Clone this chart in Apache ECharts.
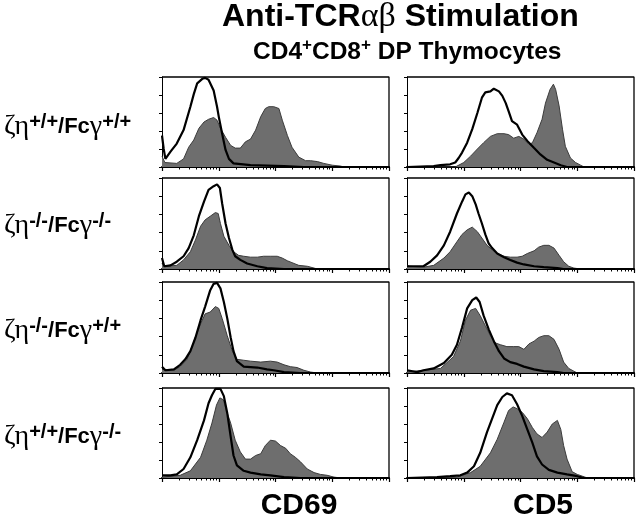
<!DOCTYPE html>
<html><head><meta charset="utf-8">
<script src="https://cdn.jsdelivr.net/npm/echarts@6/dist/echarts.min.js"></script>
<style>html,body{margin:0;padding:0;background:#fff}#c{width:640px;height:520px}</style>
</head><body><div id="c"></div><script>
// x values are log10 fluorescence (decades 0..4); y values are relative cell counts (0..100)
const markers = ['CD69', 'CD5'];
const genotypeSup = [['+/+', '+/+'], ['-/-', '-/-'], ['-/-', '+/+'], ['+/+', '-/-']];
const decadeTicks = [0, 1, 2, 3, 4];
const countTicks = [0, 20, 40, 60, 80, 100];

// Row 1: zeta-eta +/+ / FcR-gamma +/+
const cd69_wt_stim = [[0,12],[0.05,5],[0.26,4],[0.38,9],[0.47,22],[0.56,30],[0.65,43],[0.74,50],[0.82,53],[0.91,55],[0.97,52],[1.03,43],[1.12,33],[1.21,24],[1.29,21],[1.38,21],[1.47,28],[1.56,31],[1.65,41],[1.74,56],[1.82,65],[1.88,67],[1.97,67],[2.06,65],[2.12,52],[2.21,35],[2.29,22],[2.41,11],[2.53,7],[2.62,7],[2.74,6],[2.85,4],[3.0,2],[3.15,1],[3.2,0],[4,0]];
const cd69_wt_ctrl = [[0,35],[0.03,20],[0.06,9],[0.15,17],[0.26,26],[0.38,41],[0.5,67],[0.56,81],[0.62,93],[0.71,98],[0.76,99],[0.82,97],[0.91,85],[0.97,67],[1.0,56],[1.06,37],[1.12,19],[1.18,9],[1.26,4],[1.56,2],[2.15,1],[2.5,0],[4,0]];
const cd5_wt_stim = [[0,0],[0.85,0],[0.88,2],[1.0,5],[1.12,12],[1.24,20],[1.35,27],[1.47,34],[1.59,37],[1.71,37],[1.79,36],[1.88,32],[1.97,34],[2.06,31],[2.15,25],[2.21,27],[2.29,38],[2.38,53],[2.44,71],[2.52,86],[2.58,92],[2.62,86],[2.68,68],[2.74,42],[2.79,23],[2.88,10],[2.97,5],[3.06,2],[3.12,0],[4,0]];
const cd5_wt_ctrl = [[0,0],[0.47,1],[0.59,2],[0.76,3],[0.85,5],[0.91,10],[0.97,16],[1.06,27],[1.15,42],[1.24,60],[1.32,77],[1.38,83],[1.47,84],[1.53,87],[1.62,84],[1.68,79],[1.74,71],[1.79,62],[1.85,51],[1.94,47],[2.03,36],[2.12,29],[2.24,21],[2.35,14],[2.47,8],[2.59,5],[2.71,2],[2.82,0],[4,0]];

// Row 2: zeta-eta -/- / FcR-gamma -/-
const cd69_dko_stim = [[0,6],[0.04,3],[0.26,4],[0.38,10],[0.5,19],[0.59,32],[0.68,47],[0.76,54],[0.85,58],[0.94,62],[0.99,61],[1.03,50],[1.09,36],[1.18,26],[1.26,19],[1.35,15],[1.44,14],[1.56,13],[1.68,13],[1.79,14],[1.91,14],[2.03,14],[2.12,12],[2.21,9],[2.29,7],[2.41,4],[2.56,3],[2.68,1],[2.74,0],[4,0]];
const cd69_dko_ctrl = [[0,12],[0.04,3],[0.15,4],[0.26,8],[0.38,14],[0.47,23],[0.56,37],[0.65,58],[0.74,74],[0.82,87],[0.91,91],[0.97,93],[1.02,89],[1.06,72],[1.12,50],[1.18,34],[1.24,21],[1.29,14],[1.38,10],[1.5,6],[1.68,3],[1.85,1],[2.15,0],[4,0]];
const cd5_dko_stim = [[0,4],[0.05,3],[0.29,2],[0.47,4],[0.65,12],[0.76,19],[0.88,30],[0.97,38],[1.06,43],[1.15,46],[1.24,41],[1.32,34],[1.41,26],[1.5,21],[1.59,17],[1.71,14],[1.82,13],[1.94,13],[2.03,14],[2.12,17],[2.24,20],[2.32,24],[2.41,26],[2.5,26],[2.59,23],[2.68,15],[2.76,8],[2.85,3],[2.94,1],[3.06,0],[4,0]];
const cd5_dko_ctrl = [[0,3],[0.18,3],[0.29,3],[0.41,8],[0.53,15],[0.65,26],[0.76,41],[0.88,61],[0.97,74],[1.03,82],[1.09,84],[1.15,80],[1.21,71],[1.26,61],[1.32,50],[1.38,38],[1.44,28],[1.5,23],[1.59,17],[1.71,13],[1.82,10],[1.94,7],[2.06,5],[2.24,3],[2.41,2],[2.65,1],[2.76,0],[4,0]];

// Row 3: zeta-eta -/- / FcR-gamma +/+
const cd69_zko_stim = [[0,4],[0.21,3],[0.32,7],[0.44,15],[0.56,34],[0.68,54],[0.76,65],[0.85,67],[0.94,73],[1.0,71],[1.06,60],[1.15,41],[1.24,24],[1.32,15],[1.44,14],[1.56,13],[1.74,12],[1.91,13],[2.03,12],[2.15,9],[2.26,7],[2.38,6],[2.5,3],[2.62,1],[2.74,0],[4,0]];
const cd69_zko_ctrl = [[0,7],[0.06,3],[0.21,4],[0.32,9],[0.41,15],[0.5,24],[0.59,39],[0.68,58],[0.76,73],[0.85,91],[0.91,98],[0.97,99],[1.03,93],[1.09,78],[1.15,60],[1.21,39],[1.26,24],[1.32,13],[1.44,7],[1.68,6],[1.85,4],[1.97,3],[2.15,1],[2.44,0],[4,0]];
const cd5_zko_stim = [[0,1],[0.59,5],[0.82,18],[0.94,35],[1.03,58],[1.12,69],[1.21,71],[1.29,63],[1.38,52],[1.47,41],[1.56,33],[1.65,31],[1.76,29],[1.88,29],[1.97,29],[2.06,26],[2.15,32],[2.24,35],[2.32,39],[2.41,41],[2.5,41],[2.59,37],[2.68,26],[2.76,12],[2.85,5],[2.94,2],[3.0,0],[4,0]];
const cd5_zko_ctrl = [[0,3],[0.18,1],[0.29,3],[0.47,5],[0.65,11],[0.79,20],[0.88,31],[0.97,50],[1.06,71],[1.15,80],[1.22,83],[1.28,78],[1.35,63],[1.44,48],[1.53,35],[1.62,24],[1.71,16],[1.82,12],[1.94,10],[2.06,7],[2.24,4],[2.41,2],[2.65,1],[2.76,0],[4,0]];

// Row 4: zeta-eta +/+ / FcR-gamma -/-
const cd69_gko_stim = [[0,1],[0.32,3],[0.5,8],[0.68,23],[0.79,42],[0.88,61],[0.96,81],[1.02,89],[1.08,87],[1.14,74],[1.21,61],[1.29,42],[1.38,29],[1.47,21],[1.56,21],[1.65,25],[1.74,27],[1.82,36],[1.91,42],[2.0,41],[2.09,36],[2.18,33],[2.26,27],[2.35,23],[2.44,18],[2.56,10],[2.68,6],[2.79,4],[2.91,3],[3.03,1],[3.15,0],[4,0]];
const cd69_gko_ctrl = [[0,3],[0.15,3],[0.26,4],[0.38,10],[0.5,23],[0.62,42],[0.74,64],[0.82,83],[0.88,92],[0.94,99],[1.03,99],[1.09,91],[1.15,72],[1.21,46],[1.26,25],[1.32,14],[1.44,8],[1.56,6],[1.74,4],[1.91,3],[2.15,1],[2.44,0],[4,0]];
const cd5_gko_stim = [[0,0],[0.88,1],[1.12,6],[1.29,13],[1.47,28],[1.59,43],[1.71,62],[1.79,75],[1.87,79],[1.94,77],[2.03,73],[2.12,66],[2.21,56],[2.29,49],[2.38,45],[2.47,51],[2.56,60],[2.65,64],[2.71,54],[2.76,36],[2.82,21],[2.91,7],[3.0,4],[3.09,2],[3.18,0],[4,0]];
const cd5_gko_ctrl = [[0,0],[0.53,1],[0.76,2],[0.94,3],[1.06,6],[1.18,13],[1.29,28],[1.41,51],[1.5,66],[1.59,81],[1.68,90],[1.76,94],[1.85,92],[1.94,82],[2.03,69],[2.12,54],[2.21,39],[2.29,24],[2.38,15],[2.5,9],[2.65,6],[2.82,4],[3.0,2],[3.12,0],[4,0]];

const panels = [
  [cd69_wt_stim, cd69_wt_ctrl, cd5_wt_stim, cd5_wt_ctrl],
  [cd69_dko_stim, cd69_dko_ctrl, cd5_dko_stim, cd5_dko_ctrl],
  [cd69_zko_stim, cd69_zko_ctrl, cd5_zko_stim, cd5_zko_ctrl],
  [cd69_gko_stim, cd69_gko_ctrl, cd5_gko_stim, cd5_gko_ctrl]
];

// minor log ticks (2..9 within each decade)
const minorTickValues = [];
for (let d = 0; d < 4; d++) for (let m = 2; m <= 9; m++) minorTickValues.push(d + Math.log10(m));

// layout
const rowTops = [77, 178, 282, 388];
const rowHeights = [90, 91, 91, 90];
const colLefts = [162, 407];
const colWidth = 227;
const labelBaselines = [135, 234, 339, 445];

const xMin = decadeTicks[0], xMax = decadeTicks[decadeTicks.length - 1];
const yMin = countTicks[0], yMax = countTicks[countTicks.length - 1];
// top and right edges of each panel frame, in axis units
const frameEdge = [[xMin, yMax], [xMax, yMax], [xMax, yMin]];

const grid = [], xAxis = [], yAxis = [], series = [];
const hidden = { axisLine: { show: false }, axisTick: { show: false }, axisLabel: { show: false }, splitLine: { show: false } };
for (let r = 0; r < 4; r++) {
  for (let c = 0; c < 2; c++) {
    const rect = { left: colLefts[c], top: rowTops[r], width: colWidth, height: rowHeights[r] };
    const gMain = grid.length;
    grid.push(Object.assign({}, rect));
    const gMinor = grid.length;
    grid.push(Object.assign({}, rect));
    const xi = xAxis.length;
    xAxis.push({ type: 'value', gridIndex: gMain, position: 'bottom', min: xMin, max: xMax, interval: 1,
      axisLine: { show: true, onZero: false, lineStyle: { color: '#000', width: 2 } },
      axisTick: { show: true, inside: false, length: 4, lineStyle: { color: '#000', width: 1.2 } },
      axisLabel: { show: false }, splitLine: { show: false } });
    const xMinor = xAxis.length;
    xAxis.push({ type: 'value', gridIndex: gMinor, position: 'bottom', min: xMin, max: xMax, interval: 1,
      axisLine: { show: false, onZero: false },
      axisTick: { show: true, inside: false, length: 2.5, customValues: minorTickValues, lineStyle: { color: '#000', width: 1 } },
      axisLabel: { show: false }, splitLine: { show: false } });
    const yi = yAxis.length;
    yAxis.push({ type: 'value', gridIndex: gMain, position: 'left', min: yMin, max: yMax, interval: 20,
      axisLine: { show: true, onZero: false, lineStyle: { color: '#000', width: 1 } },
      axisTick: { show: true, inside: false, length: 3, lineStyle: { color: '#000' } },
      axisLabel: { show: false }, splitLine: { show: false } });
    const yMinor = yAxis.length;
    yAxis.push(Object.assign({ type: 'value', gridIndex: gMinor, min: yMin, max: yMax, interval: 20 }, hidden));
    const stim = panels[r][c * 2], ctrl = panels[r][c * 2 + 1];
    series.push({ type: 'line', xAxisIndex: xi, yAxisIndex: yi, data: stim, showSymbol: false,
      lineStyle: { color: '#3c3c3c', width: 1 }, areaStyle: { color: '#6e6e6e', opacity: 1 }, z: 2, silent: true });
    series.push({ type: 'line', xAxisIndex: xi, yAxisIndex: yi, data: ctrl, showSymbol: false,
      lineStyle: { color: '#000', width: 2.2 }, z: 3, silent: true });
    // panel frame (top + right edges)
    series.push({ type: 'line', xAxisIndex: xi, yAxisIndex: yi, data: frameEdge, showSymbol: false, clip: false,
      lineStyle: { color: '#000', width: 1.3 }, z: 4, silent: true });
    series.push({ type: 'line', xAxisIndex: xMinor, yAxisIndex: yMinor, data: [], showSymbol: false, silent: true });
  }
}

const sans = 'Liberation Sans, Arial, sans-serif';
const serif = 'Liberation Serif, Times New Roman, serif';
const graphic = [
  { type: 'text', left: 222, top: 0, style: {
      text: '{b|Anti-TCR}{g|αβ}{b| Stimulation}', rich: {
        b: { fontFamily: sans, fontWeight: 'bold', fontSize: 32, lineHeight: 34, fill: '#000' },
        g: { fontFamily: serif, fontSize: 34, lineHeight: 34, fill: '#000' } } } },
  { type: 'text', left: 253, top: 37, style: {
      text: '{b|CD4}{s|+}{b|CD8}{s|+}{b| DP Thymocytes}', rich: {
        b: { fontFamily: sans, fontWeight: 'bold', fontSize: 24.5, lineHeight: 30, fill: '#000' },
        s: { fontFamily: sans, fontWeight: 'bold', fontSize: 17, lineHeight: 17, verticalAlign: 'top', fill: '#000' } } } },
  { type: 'text', x: 299, y: 506, style: { text: markers[0], fontFamily: sans, fontWeight: 'bold', fontSize: 30, fill: '#000', align: 'center', verticalAlign: 'middle' } },
  { type: 'text', x: 543, y: 506, style: { text: markers[1], fontFamily: sans, fontWeight: 'bold', fontSize: 30, fill: '#000', align: 'center', verticalAlign: 'middle' } }
];
for (let r = 0; r < 4; r++) {
  const cy = labelBaselines[r] - 8;
  graphic.push({ type: 'text', x: 4, y: cy, style: {
    text: '{g|ζη}{s|' + genotypeSup[r][0] + '}{b|/Fc}{g|γ}{s|' + genotypeSup[r][1] + '}',
    verticalAlign: 'middle', align: 'left',
    rich: {
      g: { fontFamily: serif, fontSize: 28, lineHeight: 30, fill: '#000' },
      b: { fontFamily: sans, fontWeight: 'bold', fontSize: 22, lineHeight: 30, fill: '#000' },
      s: { fontFamily: sans, fontWeight: 'bold', fontSize: 20, lineHeight: 14, verticalAlign: 'top', fill: '#000' }
    } } });
}

const chart = echarts.init(document.getElementById('c'), null, { renderer: 'canvas' });
chart.setOption({ backgroundColor: '#fff', animation: false, grid, xAxis, yAxis, series, graphic });
</script></body></html>
